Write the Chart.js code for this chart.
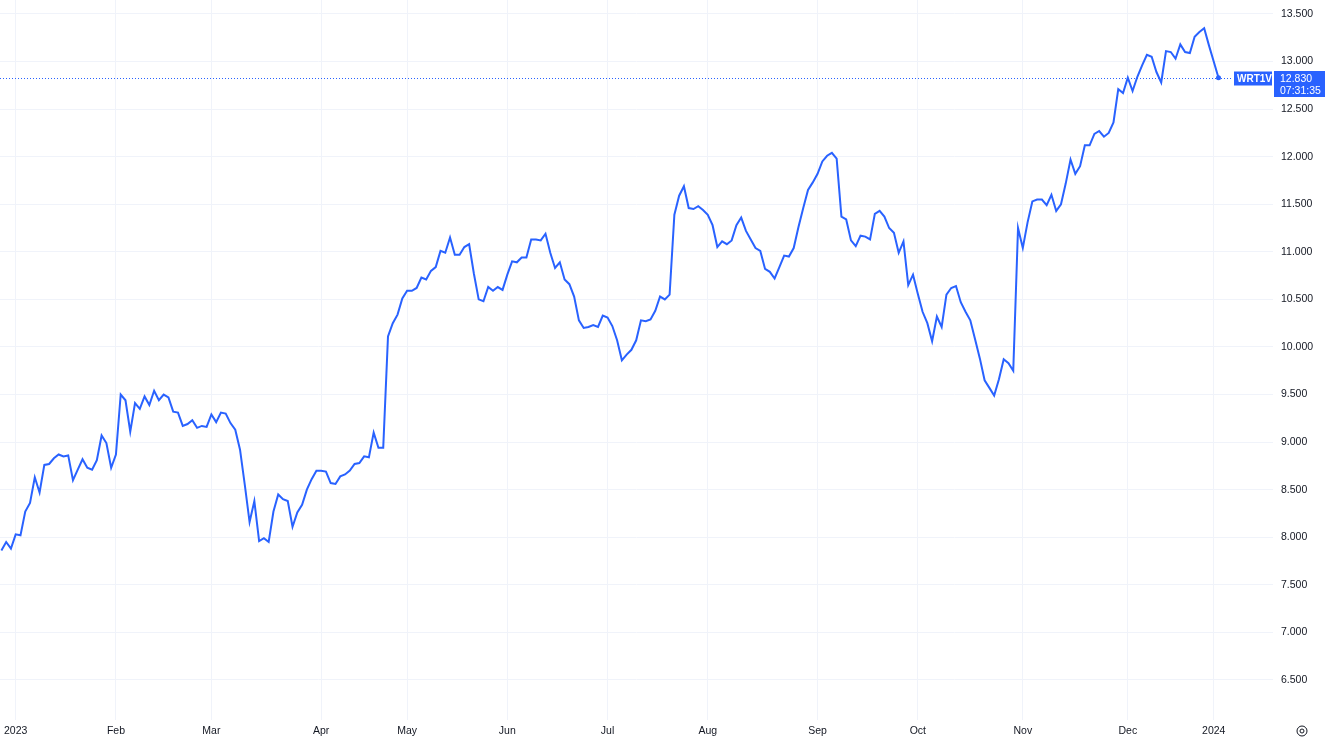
<!DOCTYPE html>
<html>
<head>
<title>WRT1V</title>
<script src="https://cdn.jsdelivr.net/npm/chart.js@4.4.0/dist/chart.umd.min.js"></script>
<style>
body { margin: 0; background: #fff; }
.wrap { width: 1327px; height: 741px; position: relative; }
</style>
</head>
<body>
<div class="wrap"><canvas id="myChart" width="1327" height="741"></canvas></div>
<script>
var symbol = "WRT1V";
var lastPrice = 12.830;
var countdown = "07:31:35";

// time scale: one step per trading day, 0 = first session of 2023
var monthLabels = ["2023", "Feb", "Mar", "Apr", "May", "Jun", "Jul", "Aug", "Sep", "Oct", "Nov", "Dec", "2024"];
var monthStarts = [0, 21, 41, 64, 82, 103, 124, 145, 168, 189, 211, 233, 251];
var yTicks = [6.5, 7, 7.5, 8, 8.5, 9, 9.5, 10, 10.5, 11, 11.5, 12, 12.5, 13, 13.5];

// daily closes, first value is bar -3 (late Dec 2022)
var firstBar = -3;
var prices = [
    7.86, 7.95, 7.88,
    // jan
    8.03, 8.02, 8.27, 8.36, 8.63, 8.47, 8.76, 8.77, 8.83, 8.87, 8.85, 8.86, 8.60, 8.71, 8.82, 8.73, 8.71, 8.81, 9.07, 8.99, 8.73,
    // feb
    8.87, 9.50, 9.44, 9.11, 9.41, 9.35, 9.48, 9.39, 9.54, 9.44, 9.50, 9.47, 9.32, 9.31, 9.17, 9.19, 9.23, 9.15, 9.17, 9.16,
    // mar
    9.29, 9.21, 9.31, 9.30, 9.20, 9.13, 8.92, 8.55, 8.16, 8.38, 7.96, 7.99, 7.95, 8.27, 8.45, 8.40, 8.38, 8.11, 8.26, 8.34, 8.50, 8.61, 8.70,
    // apr
    8.70, 8.69, 8.57, 8.56, 8.64, 8.66, 8.70, 8.77, 8.78, 8.85, 8.84, 9.10, 8.94, 8.94, 10.11, 10.25, 10.34, 10.51,
    // may
    10.59, 10.59, 10.62, 10.73, 10.71, 10.80, 10.84, 11.01, 10.99, 11.15, 10.97, 10.97, 11.05, 11.08, 10.77, 10.50, 10.48, 10.63, 10.59, 10.63, 10.60,
    // jun
    10.76, 10.90, 10.89, 10.94, 10.94, 11.13, 11.13, 11.12, 11.19, 10.99, 10.83, 10.89, 10.71, 10.66, 10.53, 10.28, 10.20, 10.21, 10.23, 10.21, 10.33,
    // jul
    10.31, 10.22, 10.07, 9.86, 9.92, 9.97, 10.07, 10.28, 10.27, 10.29, 10.38, 10.53, 10.50, 10.55, 11.39, 11.59, 11.69, 11.46, 11.45, 11.48, 11.44,
    // aug
    11.39, 11.28, 11.05, 11.11, 11.08, 11.12, 11.28, 11.36, 11.22, 11.13, 11.04, 11.01, 10.82, 10.79, 10.72, 10.84, 10.96, 10.95, 11.04, 11.26, 11.46, 11.65, 11.73,
    // sep
    11.82, 11.95, 12.01, 12.04, 11.98, 11.37, 11.34, 11.12, 11.06, 11.17, 11.16, 11.13, 11.40, 11.43, 11.37, 11.25, 11.20, 10.99, 11.11, 10.65, 10.76,
    // oct
    10.56, 10.37, 10.25, 10.06, 10.32, 10.21, 10.55, 10.62, 10.64, 10.47, 10.37, 10.28, 10.08, 9.88, 9.65, 9.57, 9.49, 9.66, 9.87, 9.83, 9.75, 11.25,
    // nov
    11.04, 11.31, 11.53, 11.55, 11.55, 11.49, 11.60, 11.43, 11.50, 11.72, 11.97, 11.82, 11.90, 12.12, 12.12, 12.24, 12.27, 12.21, 12.25, 12.36, 12.71, 12.67,
    // dec
    12.83, 12.69, 12.84, 12.96, 13.07, 13.05, 12.89, 12.78, 13.11, 13.10, 13.03, 13.18, 13.10, 13.09, 13.26, 13.31, 13.35, 13.17,
    // 2024
    13.00, 12.83
];

var blue = "#2962ff";
var textColor = "#131722";
var gridColor = "#f0f3fa";
var fontFamily = '"Liberation Sans", Arial, sans-serif';

var points = prices.map(function (p, k) { return { x: firstBar + k, y: p }; });

function noPadding(scale) {
    scale.paddingTop = 0;
    scale.paddingBottom = 0;
    scale.paddingLeft = 0;
    scale.paddingRight = 0;
}

var priceTag = {
    id: "priceTag",
    afterDraw: function (chart) {
        var c = chart.ctx;
        var area = chart.chartArea;
        var y = Math.round(chart.scales.y.getPixelForValue(lastPrice)) + 0.5;
        c.save();
        // dotted last price line
        c.strokeStyle = blue;
        c.lineWidth = 1;
        c.setLineDash([1, 2]);
        c.beginPath();
        c.moveTo(area.left, y);
        c.lineTo(area.right - 40, y);
        c.stroke();
        c.setLineDash([]);
        // symbol tag + price tag
        c.fillStyle = blue;
        c.fillRect(area.right - 39, y - 7, 38, 14);
        c.fillRect(area.right + 1, y - 7.5, 51, 26);
        c.fillStyle = "#fff";
        c.textBaseline = "middle";
        c.font = "bold 10px " + fontFamily;
        c.fillText(symbol, area.right - 36, y + 0.5);
        c.font = "10.5px " + fontFamily;
        c.fillText(lastPrice.toFixed(3), area.right + 7, y + 0.5);
        c.fillText(countdown, area.right + 7, y + 12.5);
        // settings icon bottom right
        c.strokeStyle = textColor;
        c.lineWidth = 1;
        c.beginPath();
        c.arc(1302, 731, 5, 0, Math.PI * 2);
        c.stroke();
        c.beginPath();
        c.arc(1302, 731, 2, 0, Math.PI * 2);
        c.stroke();
        c.restore();
    }
};

function createChart() {
    var ctx = document.getElementById("myChart").getContext("2d");
    var myLineChart = new Chart(ctx, {
        type: "line",
        data: {
            datasets: [{
                label: symbol,
                data: points,
                borderColor: blue,
                backgroundColor: blue,
                borderWidth: 2,
                tension: 0,
                pointRadius: function (c) { return c.dataIndex === prices.length - 1 ? 2.5 : 0; },
                pointBorderWidth: 0
            }]
        },
        options: {
            responsive: false,
            devicePixelRatio: 1,
            animation: false,
            layout: { padding: 0, autoPadding: false },
            plugins: {
                legend: { display: false },
                tooltip: { enabled: false }
            },
            scales: {
                x: {
                    type: "linear",
                    min: -3.29,
                    max: 263.42,
                    afterBuildTicks: function (scale) {
                        scale.ticks = monthStarts.map(function (v) { return { value: v }; });
                    },
                    afterFit: function (scale) { scale.height = 21; noPadding(scale); },
                    ticks: {
                        autoSkip: false,
                        maxRotation: 0,
                        padding: 5,
                        color: textColor,
                        font: { family: fontFamily, size: 10.5 },
                        callback: function (v) { return monthLabels[monthStarts.indexOf(v)]; }
                    },
                    grid: { color: gridColor, drawTicks: false },
                    border: { display: false }
                },
                y: {
                    position: "right",
                    min: 6.079,
                    max: 13.647,
                    afterBuildTicks: function (scale) {
                        scale.ticks = yTicks.map(function (v) { return { value: v }; });
                    },
                    afterFit: function (scale) { scale.width = 54; noPadding(scale); },
                    ticks: {
                        padding: 8,
                        crossAlign: "near",
                        color: textColor,
                        font: { family: fontFamily, size: 10.5 },
                        callback: function (v) { return v.toFixed(3); }
                    },
                    grid: { color: gridColor, drawTicks: false },
                    border: { display: false }
                }
            }
        },
        plugins: [priceTag]
    });
}
createChart();
</script>
</body>
</html>
